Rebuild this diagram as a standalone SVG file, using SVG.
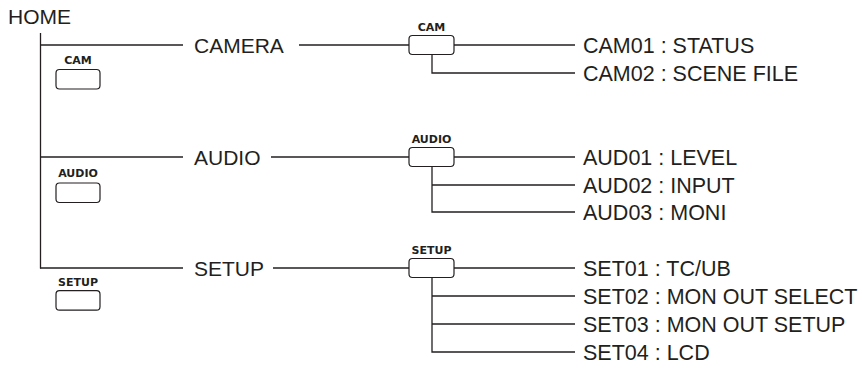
<svg xmlns="http://www.w3.org/2000/svg" width="862" height="368" viewBox="0 0 862 368">
<style>
.t{font-family:"Liberation Sans",Arial,sans-serif;font-size:21px;fill:#231f20}
.r{font-size:21.5px}
.k{font-family:"DejaVu Sans",Verdana,sans-serif;font-size:11px;font-weight:bold;fill:#231f20;text-anchor:middle}
.b{fill:#fff;stroke:#231f20;stroke-width:1.2}
.c line,.c path{stroke:#231f20;stroke-width:1.3;fill:none}
</style>
<rect width="862" height="368" fill="#fff"/>
<g class="c" id="connectors">
<line x1="40.5" y1="33" x2="40.5" y2="268.5"/>
<line x1="40" y1="45" x2="183" y2="45"/>
<line x1="40" y1="157" x2="183" y2="157"/>
<line x1="40" y1="268" x2="183" y2="268"/>
<line x1="299" y1="45" x2="409" y2="45"/>
<line x1="271" y1="157" x2="409" y2="157"/>
<line x1="273" y1="268" x2="409" y2="268"/>
<line x1="454" y1="45" x2="575" y2="45"/>
<path d="M432 55V73H575"/>
<line x1="454" y1="157" x2="575" y2="157"/>
<path d="M432 167V212H575M432 185H575"/>
<line x1="454" y1="268" x2="575" y2="268"/>
<path d="M432 278V352H575M432 296H575M432 324H575"/>
</g>
<g id="home"><text class="t" x="8" y="23.5">HOME</text></g>
<g id="camera"><text class="t" x="194" y="52.7">CAMERA</text></g>
<g id="audio"><text class="t" x="194" y="164.7">AUDIO</text></g>
<g id="setup"><text class="t" x="194" y="275.7">SETUP</text></g>
<g id="btn-cam-left"><text class="k" x="78" y="64.3">CAM</text><rect class="b" x="56" y="69.5" width="44" height="19.5" rx="3.5"/></g>
<g id="btn-audio-left"><text class="k" x="78" y="177.3">AUDIO</text><rect class="b" x="56" y="183" width="44" height="19.5" rx="3.5"/></g>
<g id="btn-setup-left"><text class="k" x="78" y="285.7">SETUP</text><rect class="b" x="56" y="290.7" width="44" height="19.5" rx="3.5"/></g>
<g id="btn-cam"><text class="k" x="431.5" y="30.7">CAM</text><rect class="b" x="409" y="35.5" width="45" height="19" rx="3.5"/></g>
<g id="btn-audio"><text class="k" x="431.5" y="143.3">AUDIO</text><rect class="b" x="409" y="147.5" width="45" height="19" rx="3.5"/></g>
<g id="btn-setup"><text class="k" x="431.5" y="254">SETUP</text><rect class="b" x="409" y="258.5" width="45" height="19" rx="3.5"/></g>
<g id="cam01"><text class="t r" x="583" y="52.8">CAM01 : STATUS</text></g>
<g id="cam02"><text class="t r" x="583" y="80.8">CAM02 : SCENE FILE</text></g>
<g id="aud01"><text class="t r" x="583" y="164.8">AUD01 : LEVEL</text></g>
<g id="aud02"><text class="t r" x="583" y="192.8">AUD02 : INPUT</text></g>
<g id="aud03"><text class="t r" x="583" y="219.8">AUD03 : MONI</text></g>
<g id="set01"><text class="t r" x="583" y="275.8">SET01 : TC/UB</text></g>
<g id="set02"><text class="t r" x="583" y="303.8">SET02 : MON OUT SELECT</text></g>
<g id="set03"><text class="t r" x="583" y="331.8">SET03 : MON OUT SETUP</text></g>
<g id="set04"><text class="t r" x="583" y="359.8">SET04 : LCD</text></g>
</svg>
